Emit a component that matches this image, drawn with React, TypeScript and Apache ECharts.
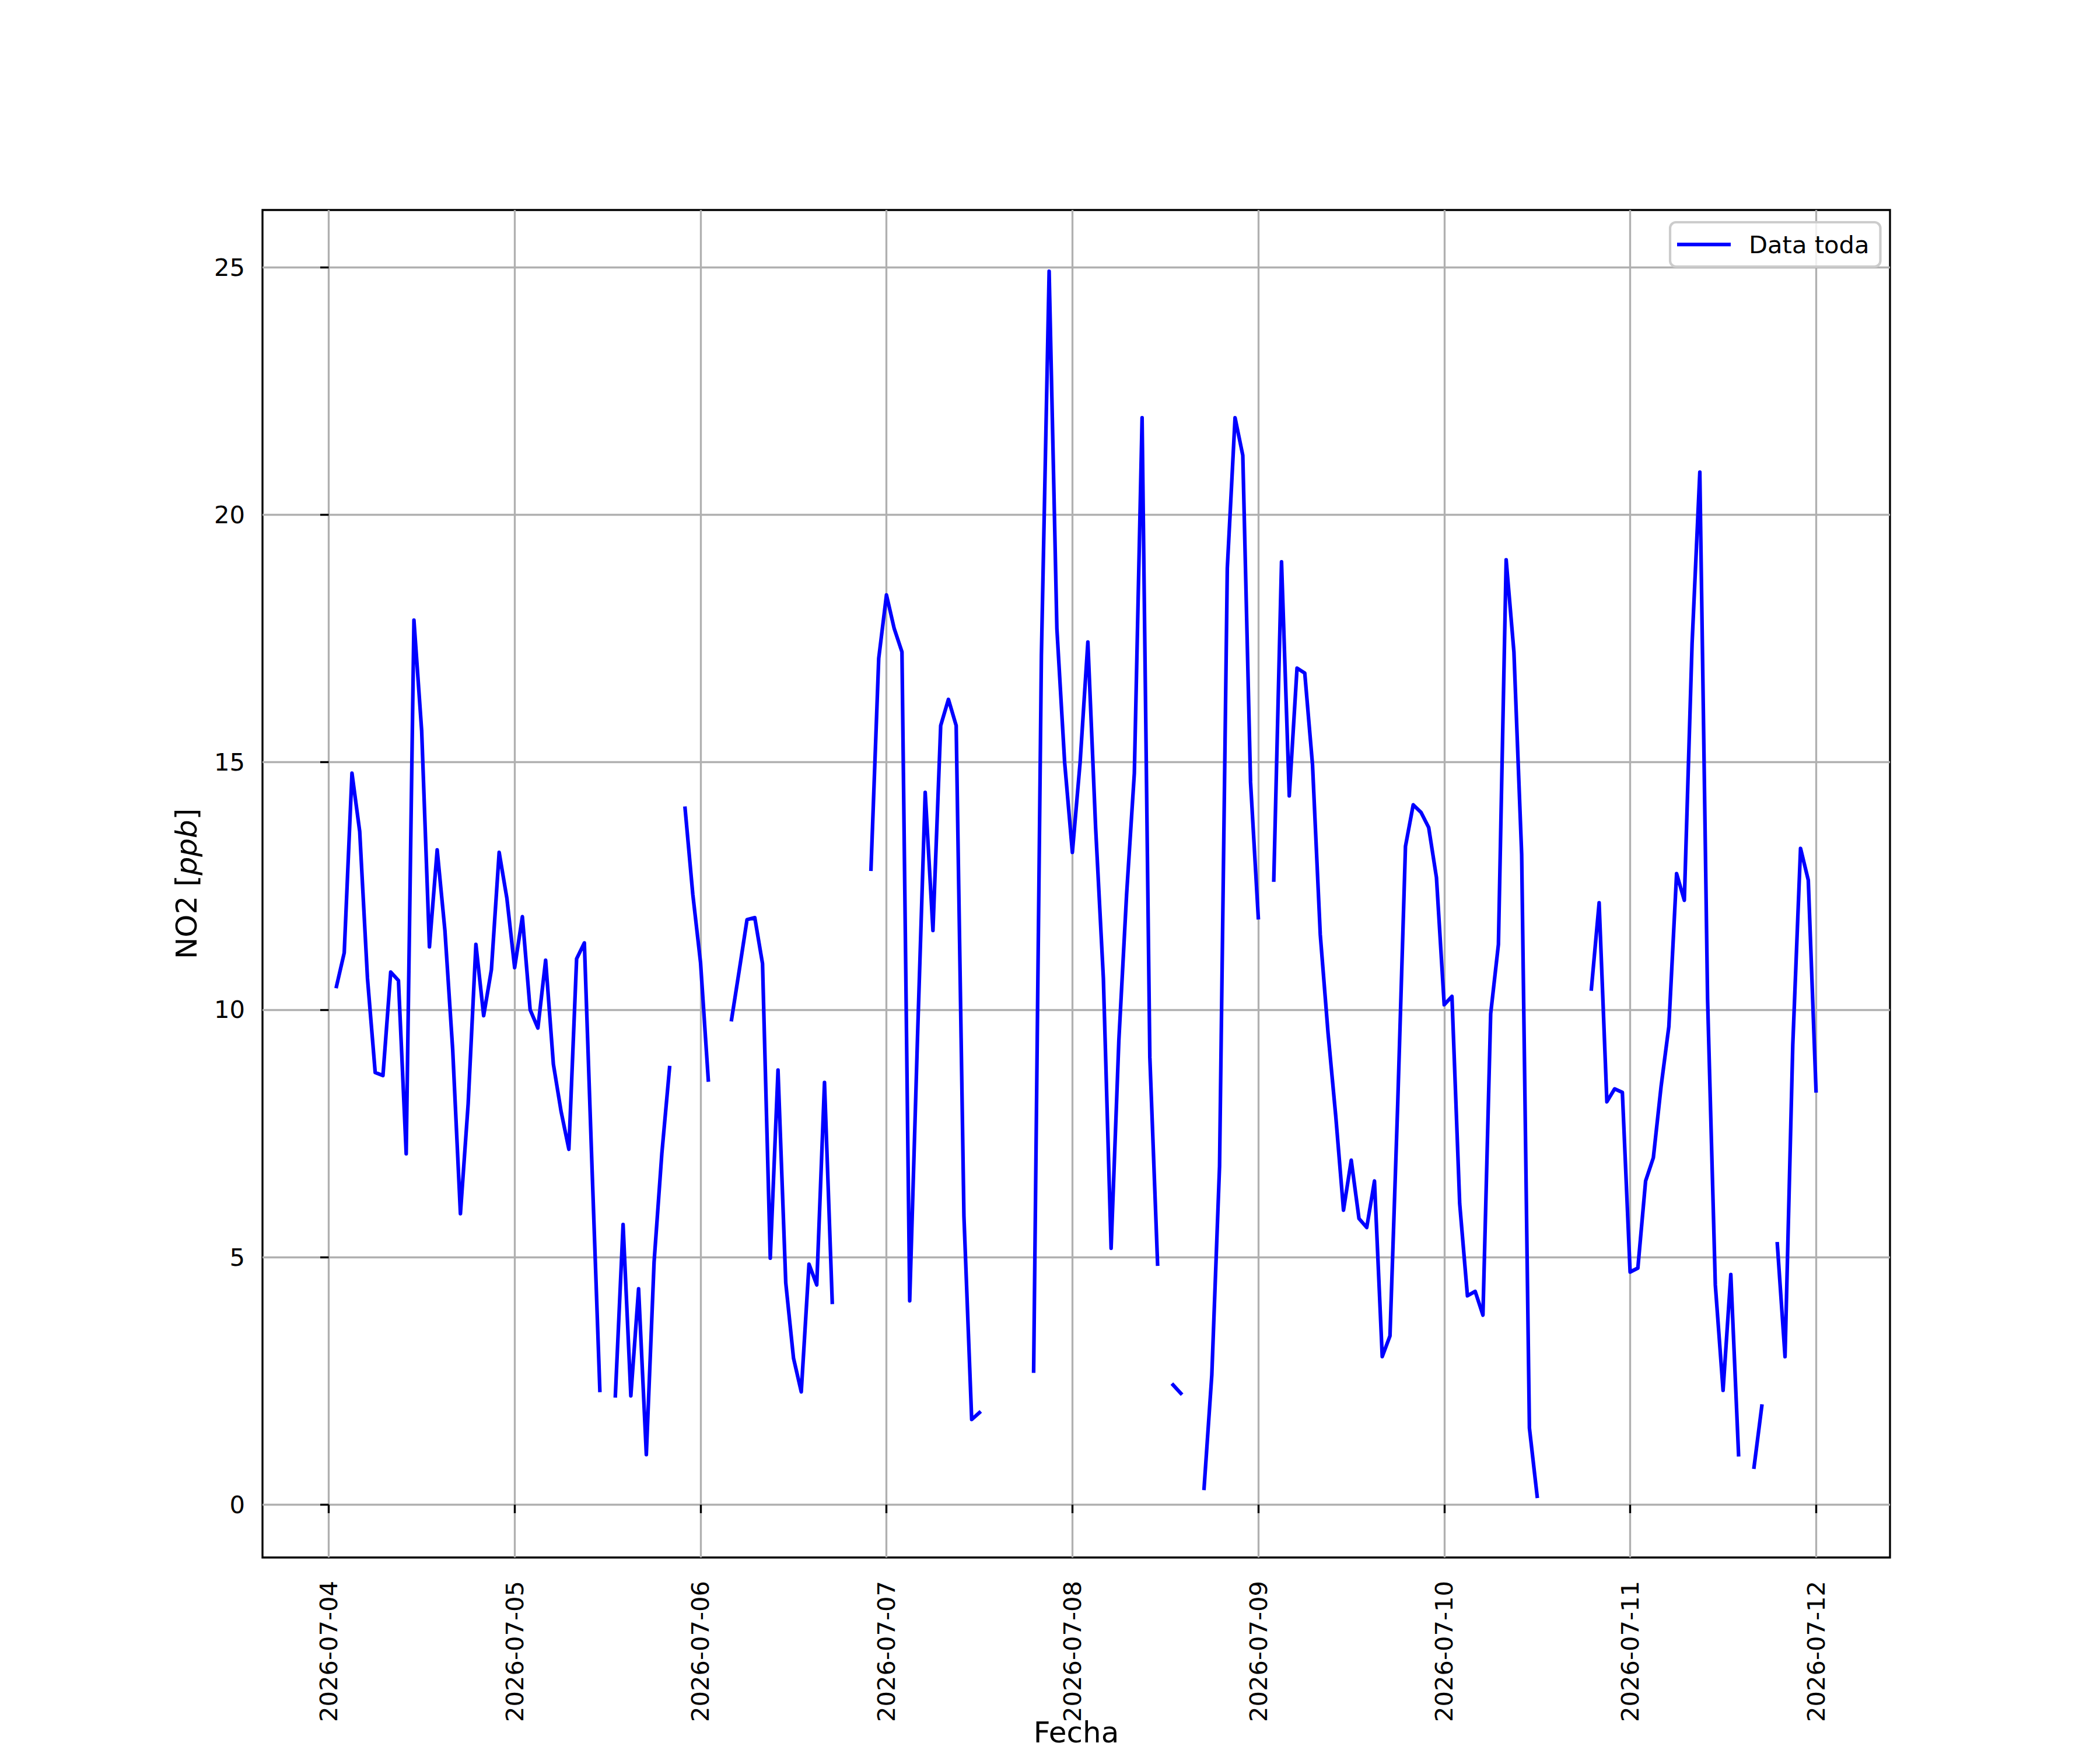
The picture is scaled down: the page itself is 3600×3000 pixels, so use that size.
import React, { useEffect, useRef } from "react";
import * as echarts from "echarts";

// Hourly NO2 values [ppb]; each array holds hours 01:00 .. 24:00 (next day's 00:00)
const no2Jul04 = [10.47, 11.15, 14.78, 13.6, 10.64, 8.73, 8.67, 10.76, 10.59, 7.09, 17.87, 15.63, 11.27, 13.23, 11.6, 9.2, 5.88, 8.1, 11.32, 9.88, 10.81, 13.18, 12.25, 10.85];
const no2Jul05 = [11.88, 10.0, 9.63, 11.0, 8.9, 7.94, 7.18, 11.03, 11.35, 6.76, 2.31, null, 2.2, 5.66, 2.2, 4.36, 1.01, 4.9, 7.09, 8.83, null, 14.07, 12.33, 10.95];
const no2Jul06 = [8.58, null, null, 9.8, 10.8, 11.82, 11.86, 10.93, 4.98, 8.78, 4.48, 2.96, 2.28, 4.86, 4.44, 8.53, 4.09, null, null, null, null, 12.84, 17.1, 18.38];
const no2Jul07 = [17.7, 17.23, 4.12, 9.4, 14.39, 11.6, 15.74, 16.27, 15.74, 5.83, 1.72, 1.86, null, null, null, null, null, null, 2.7, 17.15, 24.92, 17.7, 15.0, 13.18];
const no2Jul08 = [15.0, 17.43, 13.68, 10.64, 5.18, 9.38, 12.33, 14.78, 21.96, 9.04, 4.86, null, 2.42, 2.25, null, null, 0.33, 2.62, 6.84, 18.92, 21.96, 21.2, 14.6, 11.86];
const no2Jul09 = [null, 12.62, 19.05, 14.32, 16.9, 16.8, 14.95, 11.52, 9.54, 7.85, 5.95, 6.96, 5.78, 5.6, 6.54, 2.99, 3.41, 8.1, 13.3, 14.14, 13.99, 13.68, 12.67, 10.1];
const no2Jul10 = [10.27, 6.08, 4.22, 4.31, 3.83, 9.92, 11.32, 19.09, 17.23, 13.14, 1.55, 0.17, null, null, null, null, null, null, 10.42, 12.16, 8.14, 8.4, 8.33, 4.7];
const no2Jul11 = [4.78, 6.54, 7.01, 8.45, 9.66, 12.75, 12.21, 17.4, 20.86, 10.22, 4.44, 2.31, 4.65, 1.01, null, 0.76, 1.99, null, 5.27, 2.99, 9.29, 13.26, 12.62, 8.36];

const dailyArrays = [no2Jul04, no2Jul05, no2Jul06, no2Jul07, no2Jul08, no2Jul09, no2Jul10, no2Jul11];

const xTickLabels = ["2026-07-04", "2026-07-05", "2026-07-06", "2026-07-07", "2026-07-08", "2026-07-09", "2026-07-10", "2026-07-11", "2026-07-12"];
const yTicks = [0, 5, 10, 15, 20, 25];
const seriesName = "Data toda";

const PT = 300 / 72;
const FONT = "DejaVu Sans";

export default function App() {
  const ref = useRef<HTMLDivElement>(null);

  useEffect(() => {
    document.body.style.margin = "0";
    if (!ref.current) return;
    const chart = echarts.init(ref.current, null, { renderer: "svg" });

    // x = hours since 2026-07-04 00:00
    const points: any[] = [];
    dailyArrays.forEach((arr, d) => {
      arr.forEach((v, i) => {
        points.push([d * 24 + i + 1, v == null ? null : v]);
      });
    });
    const xs = points.map((p) => p[0]);
    const ys = points.filter((p) => p[1] != null).map((p) => p[1] as number);
    const xMinD = Math.min(...xs);
    const xMaxD = Math.max(...xs);
    const yMinD = Math.min(...ys);
    const yMaxD = Math.max(...ys);
    const xPad = (xMaxD - xMinD) * 0.05;
    const yPad = (yMaxD - yMinD) * 0.05;
    const xTickValues = xTickLabels.map((_, i) => i * 24);

    const gridColor = "#b0b0b0";
    const lw = 0.8 * PT;

    chart.setOption({
      animation: false,
      backgroundColor: "#ffffff",
      grid: {
        left: 450,
        top: 360,
        width: 2790,
        height: 2310,
        show: true,
        borderColor: "#000000",
        borderWidth: lw,
        backgroundColor: "transparent",
        containLabel: false,
        outerBoundsMode: "none",
      },
      legend: {
        show: true,
        left: 2863,
        top: 381,
        orient: "vertical",
        padding: [17, 19, 17, 12],
        icon: "rect",
        itemWidth: 92,
        itemHeight: 1.5 * PT,
        itemStyle: { color: "#0000ff", borderWidth: 0 },
        backgroundColor: "rgba(255,255,255,0.8)",
        borderColor: "#cccccc",
        borderWidth: 1.0 * PT,
        borderRadius: 10,
        textStyle: {
          fontFamily: FONT,
          fontSize: 10 * PT,
          lineHeight: 42,
          color: "#000000",
          padding: [0, 0, 0, 26],
        },
        data: [seriesName],
      },
      xAxis: {
        type: "value",
        min: xMinD - xPad,
        max: xMaxD + xPad,
        name: "Fecha",
        nameLocation: "middle",
        nameGap: 300,
        nameMoveOverlap: false,
        nameTextStyle: {
          fontFamily: FONT,
          fontSize: 12 * PT,
          lineHeight: 50,
          color: "#000000",
          verticalAlign: "middle",
        },
        axisLine: { show: false },
        axisTick: {
          show: true,
          inside: false,
          length: 3.5 * PT,
          lineStyle: { color: "#000000", width: lw },
          customValues: xTickValues,
        },
        axisLabel: {
          show: true,
          rotate: 90,
          margin: 40,
          fontFamily: FONT,
          fontSize: 10 * PT,
          color: "#000000",
          customValues: xTickValues,
          formatter: (v: number) => xTickLabels[Math.round(v / 24)] ?? "",
        },
        splitLine: {
          show: true,
          lineStyle: { color: gridColor, width: lw },
        },
      },
      yAxis: {
        type: "value",
        min: yMinD - yPad,
        max: yMaxD + yPad,
        name: "NO2 [{i|ppb}]",
        nameLocation: "middle",
        nameRotate: 90,
        nameGap: 130,
        nameMoveOverlap: false,
        nameTextStyle: {
          fontFamily: FONT,
          fontSize: 12 * PT,
          color: "#000000",
          verticalAlign: "middle",
          rich: {
            i: { fontFamily: FONT, fontSize: 12 * PT, fontStyle: "italic", color: "#000000" },
          },
        },
        axisLine: { show: false },
        axisTick: {
          show: true,
          inside: false,
          length: 3.5 * PT,
          lineStyle: { color: "#000000", width: lw },
          customValues: yTicks,
        },
        axisLabel: {
          show: true,
          margin: 30,
          fontFamily: FONT,
          fontSize: 10 * PT,
          color: "#000000",
          customValues: yTicks,
        },
        splitLine: {
          show: true,
          lineStyle: { color: gridColor, width: lw },
        },
      },
      series: [
        {
          name: seriesName,
          type: "line",
          data: points,
          symbol: "none",
          showSymbol: false,
          connectNulls: false,
          lineStyle: { color: "#0000ff", width: 1.5 * PT, cap: "square", join: "round" },
          itemStyle: { color: "#0000ff" },
          z: 3,
        },
      ],
    });

    return () => {
      chart.dispose();
    };
  }, []);

  return <div ref={ref} style={{ width: 3600, height: 3000 }} />;
}
